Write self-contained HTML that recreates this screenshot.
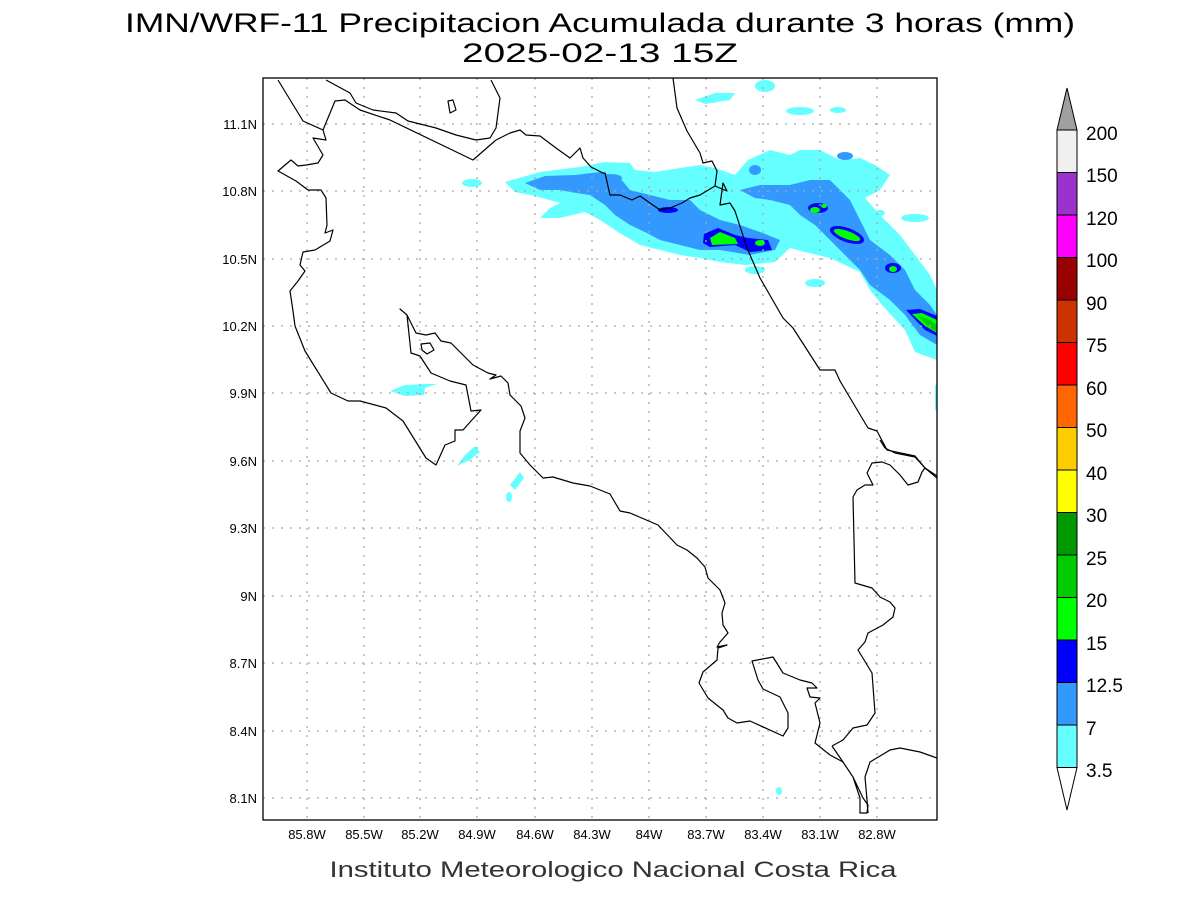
<!DOCTYPE html>
<html><head><meta charset="utf-8"><style>body{margin:0;background:#fff}svg{display:block}</style></head><body>
<svg width="1200" height="900" xmlns="http://www.w3.org/2000/svg" font-family="Liberation Sans, sans-serif">
<rect width="1200" height="900" fill="#fff"/>
<text x="600" y="32" font-size="27" text-anchor="middle" textLength="950" lengthAdjust="spacingAndGlyphs" fill="#000">IMN/WRF-11 Precipitacion Acumulada durante 3 horas (mm)</text>
<text x="600" y="62" font-size="27" text-anchor="middle" textLength="276" lengthAdjust="spacingAndGlyphs" fill="#000">2025-02-13 15Z</text>
<defs><clipPath id="c"><rect x="263" y="78" width="674" height="742"/></clipPath></defs>
<g clip-path="url(#c)">
<!-- cyan -->
<g fill="#66ffff">
<path d="M505,182 L540,172 L580,167 L605,162 L630,163 L635,170 L655,172 L680,168 L700,165 L715,168 L735,175 L748,160 L770,150 L790,155 L800,150 L820,150 L840,160 L860,158 L875,165 L890,175 L880,190 L865,198 L880,215 L900,235 L915,255 L930,275 L937,290 L937,360 L915,352 L905,330 L882,305 L870,290 L860,272 L830,258 L805,252 L790,248 L775,262 L745,265 L720,262 L700,258 L680,255 L660,250 L640,245 L618,232 L600,220 L585,212 L560,218 L540,218 L550,208 L560,203 L535,196 L515,192 Z"/>
<ellipse cx="472" cy="183" rx="10" ry="4"/>
<ellipse cx="765" cy="86" rx="10" ry="6"/>
<path d="M695,100 L715,93 L735,93 L730,100 L705,104 Z"/>
<ellipse cx="800" cy="111" rx="14" ry="4"/><ellipse cx="838" cy="110" rx="8" ry="3"/>
<ellipse cx="915" cy="218" rx="14" ry="4"/><ellipse cx="880" cy="213" rx="5" ry="3"/>
<ellipse cx="815" cy="283" rx="10" ry="4"/><ellipse cx="755" cy="270" rx="10" ry="4"/>
<path d="M390,391 L405,385 L425,384 L437,384 L425,388 L424,395 L405,396 Z"/>
<path d="M457,466 L465,455 L475,446 L480,452 L470,460 Z"/>
<path d="M510,485 L520,472 L524,478 L515,490 Z"/>
<ellipse cx="509" cy="497" rx="3" ry="5"/>
<ellipse cx="779" cy="791" rx="3" ry="4"/>
<rect x="935" y="385" width="2" height="25"/>
</g>
<!-- blue -->
<g fill="#3399ff">
<path d="M525,183 L545,176 L575,175 L600,172 L620,178 L630,190 L650,195 L670,200 L690,200 L700,210 L720,220 L740,225 L760,232 L780,240 L775,250 L750,255 L720,250 L700,250 L680,245 L660,240 L645,232 L630,225 L615,215 L605,205 L590,195 L570,192 L560,190 L540,190 Z"/>
<path d="M740,190 L760,185 L790,185 L810,180 L830,180 L840,190 L850,200 L860,220 L870,240 L890,255 L905,270 L915,290 L930,305 L937,315 L937,345 L920,335 L905,315 L890,300 L870,285 L860,270 L845,255 L830,240 L815,225 L800,215 L790,205 L770,200 L755,198 Z"/>
<ellipse cx="755" cy="170" rx="6" ry="5"/><ellipse cx="845" cy="156" rx="8" ry="4"/>
<ellipse cx="610" cy="178" rx="12" ry="4"/><ellipse cx="663" cy="215" rx="8" ry="6"/>
</g>
<!-- dark blue -->
<g fill="#0000ff">
<path d="M704,234 L718,228 L735,235 L748,238 L768,240 L772,250 L750,252 L735,245 L710,247 L703,243 Z"/>
<ellipse cx="668" cy="210" rx="10" ry="3"/>
<ellipse cx="818" cy="208" rx="10" ry="5"/>
<ellipse cx="847" cy="235" rx="18" ry="7" transform="rotate(20 847 235)"/>
<ellipse cx="893" cy="268" rx="8" ry="5"/>
<path d="M906,310 L920,309 L937,316 L937,336 L925,330 Z"/>
</g>
<g fill="#00ff00">
<path d="M710,238 L720,232 L735,238 L738,244 L712,245 Z"/>
<ellipse cx="760" cy="243" rx="5" ry="3"/>
<ellipse cx="815" cy="210" rx="5" ry="3"/><ellipse cx="824" cy="206" rx="3" ry="2"/>
<ellipse cx="847" cy="235" rx="14" ry="4" transform="rotate(20 847 235)"/>
<ellipse cx="893" cy="269" rx="4" ry="3"/>
<path d="M912,314 L922,313 L937,320 L937,333 L925,326 Z"/>
</g>
<path d="M918,316 L930,320 L937,325 L937,332 L928,326 Z" fill="#00cc00"/>
<!-- grid -->
<g stroke="#a8a8a8" stroke-width="1.3" stroke-dasharray="2,7" fill="none">
<path d="M307,78V820M364,78V820M420,78V820M477,78V820M535,78V820M592,78V820M649,78V820M706,78V820M763,78V820M820,78V820M877,78V820"/>
<path d="M263,124H937M263,191H937M263,259H937M263,326H937M263,393H937M263,461H937M263,528H937M263,596H937M263,663H937M263,731H937M263,798H937"/>
</g>
<!-- coast -->
<g stroke="#000" stroke-width="1.2" fill="none" stroke-linejoin="round">
<polyline points="278,80 303,121 323,130 326,140 313,138 323,155 318,163 306,165 298,166 291,160 278,171 296,181 308,190 321,190 326,198 327,225 325,233 333,230 330,241 315,250 303,252 300,265 305,271 298,281 290,291 293,311 295,326 305,351 331,393 348,401 360,401 386,408 403,421 426,458 436,465 445,445 455,441 455,430 463,430 471,421 481,410 471,411 466,385 450,381 431,373 420,356 411,353 407,315 400,309 407,315 416,333 426,335 435,333 441,341 451,343 463,355 473,365 488,373 496,375 490,379 501,376 508,383 510,395 521,406 525,418 520,431 520,453 530,465 541,476 543,478 553,477 573,483 590,486 610,494 620,511 630,513 658,525 677,545 687,550 697,558 705,567 708,578 720,590 725,603 722,613 723,625 728,633 720,642 717,647 727,645 718,648 717,660 703,672 699,683 708,698 723,710 728,718 737,723 750,721 783,736 788,728 788,713 780,697 763,689 758,680 752,661 773,657 783,673 800,680 812,683 817,688 807,688 810,697 820,698 815,703 820,723 815,743 830,755 843,762 853,777 863,798 868,805 867,813 860,813 860,798 853,777 843,762 832,746"/>
<polyline points="832,746 843,740 853,728 867,725 875,713 872,673 858,650 865,642 868,633 883,625 893,617 895,608 890,602 880,597 872,588 855,583 853,497 857,490 865,485 873,485 867,473 872,463 882,462 890,465 900,475 908,485 918,482 922,472 925,468 937,478"/>
<polyline points="868,813 867,800 865,777 870,762 890,750 900,748 920,752 937,758"/>
<polyline points="323,130 335,101 345,100 360,110 390,120 473,160 496,140 510,133 520,130 526,135 540,136 556,148 570,158 580,148 583,158 591,167 603,173 605,173 610,195 620,195 632,200 640,196 650,203 660,210 670,208 682,203 690,198 700,195 715,186 717,171 712,161 703,163 700,153 687,131 677,108 673,78"/>
<polyline points="326,80 350,93 356,103 373,110 396,113 408,121 436,128 456,135 476,140 490,138 496,128 500,98 491,80"/>
<polyline points="715,186 727,191 723,183 720,205 730,203 735,211 747,248 760,278 783,318 793,328 820,370 835,370 840,381 868,428 877,431 887,450 915,456 925,468 937,476"/>
<polyline points="880,440 885,448 895,453 915,457 925,468"/>
<polygon points="421,344 430,343 434,350 427,354 422,350"/>
<polygon points="448,101 453,100 456,110 450,113"/>
</g>
</g>
<rect x="263" y="78" width="674" height="742" fill="none" stroke="#000" stroke-width="1.3"/>
<g font-size="13" fill="#000" text-anchor="end">
<text x="257" y="129">11.1N</text><text x="257" y="196">10.8N</text><text x="257" y="264">10.5N</text><text x="257" y="331">10.2N</text><text x="257" y="398">9.9N</text><text x="257" y="466">9.6N</text><text x="257" y="533">9.3N</text><text x="257" y="601">9N</text><text x="257" y="668">8.7N</text><text x="257" y="736">8.4N</text><text x="257" y="803">8.1N</text>
</g>
<g font-size="13" fill="#000" text-anchor="middle">
<text x="307" y="839">85.8W</text><text x="364" y="839">85.5W</text><text x="420" y="839">85.2W</text><text x="477" y="839">84.9W</text><text x="535" y="839">84.6W</text><text x="592" y="839">84.3W</text><text x="649" y="839">84W</text><text x="706" y="839">83.7W</text><text x="763" y="839">83.4W</text><text x="820" y="839">83.1W</text><text x="877" y="839">82.8W</text>
</g>
<text x="613" y="877" font-size="22" text-anchor="middle" textLength="567" lengthAdjust="spacingAndGlyphs" fill="#333">Instituto Meteorologico Nacional Costa Rica</text>
<!-- colorbar -->
<g stroke="#000" stroke-width="1">
<polygon points="1057,130 1077,130 1067,88" fill="#a0a0a0"/>
<rect x="1057" y="130" width="20" height="42.5" fill="#f0f0f0"/>
<rect x="1057" y="172.5" width="20" height="42.5" fill="#9933cc"/>
<rect x="1057" y="215" width="20" height="42.5" fill="#ff00ff"/>
<rect x="1057" y="257.5" width="20" height="42.5" fill="#990000"/>
<rect x="1057" y="300" width="20" height="42.5" fill="#cc3300"/>
<rect x="1057" y="342.5" width="20" height="42.5" fill="#ff0000"/>
<rect x="1057" y="385" width="20" height="42.5" fill="#ff6600"/>
<rect x="1057" y="427.5" width="20" height="42.5" fill="#ffcc00"/>
<rect x="1057" y="470" width="20" height="42.5" fill="#ffff00"/>
<rect x="1057" y="512.5" width="20" height="42.5" fill="#009900"/>
<rect x="1057" y="555" width="20" height="42.5" fill="#00cc00"/>
<rect x="1057" y="597.5" width="20" height="42.5" fill="#00ff00"/>
<rect x="1057" y="640" width="20" height="42.5" fill="#0000ff"/>
<rect x="1057" y="682.5" width="20" height="42.5" fill="#3399ff"/>
<rect x="1057" y="725" width="20" height="42.5" fill="#66ffff"/>
<polygon points="1057,767.5 1077,767.5 1067,810" fill="#fff"/>
</g>
<g font-size="19" fill="#000">
<text x="1086" y="140">200</text><text x="1086" y="182">150</text><text x="1086" y="225">120</text><text x="1086" y="267">100</text><text x="1086" y="310">90</text><text x="1086" y="352">75</text><text x="1086" y="395">60</text><text x="1086" y="437">50</text><text x="1086" y="480">40</text><text x="1086" y="522">30</text><text x="1086" y="565">25</text><text x="1086" y="607">20</text><text x="1086" y="650">15</text><text x="1086" y="692">12.5</text><text x="1086" y="735">7</text><text x="1086" y="777">3.5</text>
</g>
</svg>
</body></html>
